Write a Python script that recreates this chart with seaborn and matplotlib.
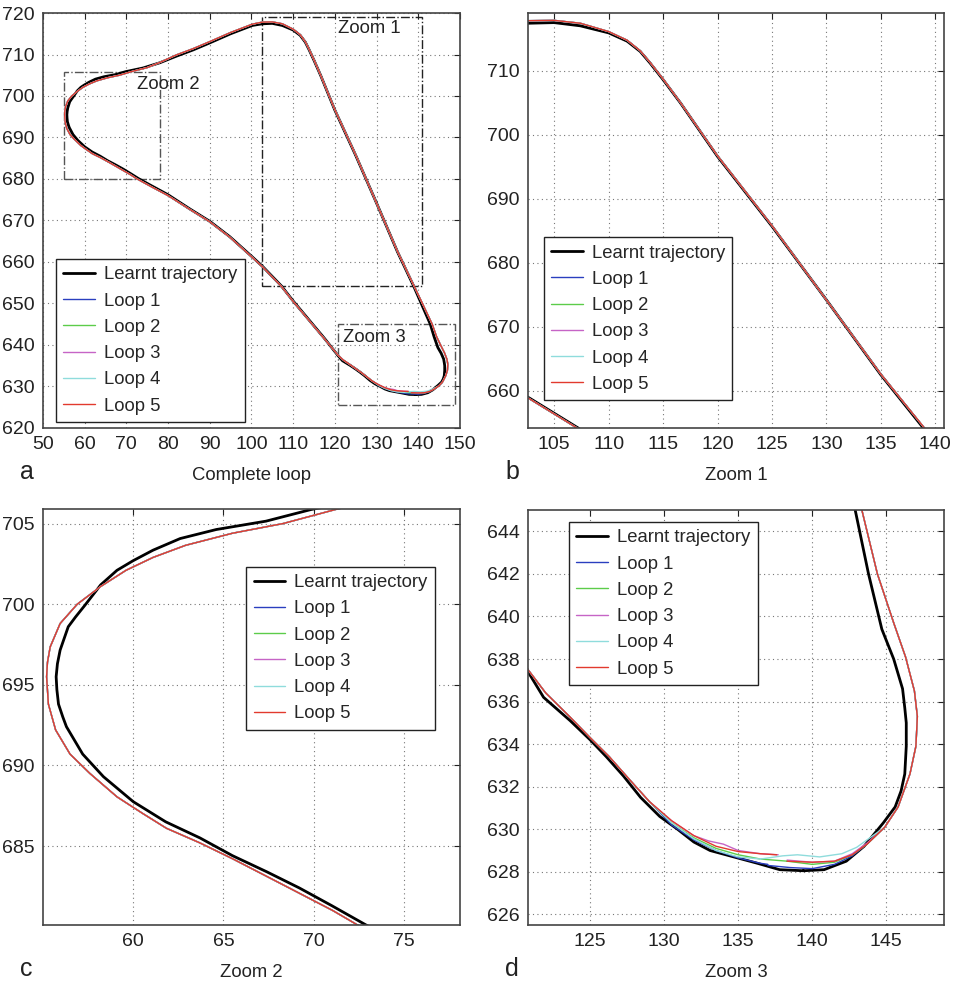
import numpy as np
import pandas as pd
import matplotlib
matplotlib.use("Agg")
import matplotlib.pyplot as plt
from matplotlib.patches import Rectangle
import seaborn as sns

# --- learnt trajectory ---
learnt_x = [139.4, 140.8, 142.3, 143.5, 144.8, 145.6, 146.0, 146.25, 146.35, 146.35, 146.25, 146.1,
            145.8, 145.5, 144.7, 143.8, 142.9, 140.9, 138.9, 135.0, 130.0, 125.0, 120.0, 116.6,
            115.0, 113.8, 112.9, 111.7, 110.0, 107.4, 105.0, 102.6, 100.2, 95.0, 90.0, 86.0,
            82.0, 78.0, 74.0, 69.85, 67.36, 64.6, 62.6, 61.1, 60.0, 59.1, 58.2, 57.3,
            56.8, 56.4, 55.95, 55.8, 55.73, 55.77, 55.86, 56.1, 56.3, 57.2, 58.35, 60.0,
            61.8, 63.7, 65.5, 67.4, 69.2, 71.0, 72.9, 75.6, 80.0, 85.2, 90.0, 94.8,
            100.0, 102.7, 105.0, 107.2, 110.0, 114.0, 117.5, 120.8, 121.85, 123.65, 125.0, 126.1,
            127.25, 128.4, 129.7, 130.9, 132.0, 133.1, 134.7, 136.3, 137.8, 139.4]
learnt_y = [628.05, 628.1, 628.5, 629.2, 630.3, 631.05, 631.8, 632.6, 633.9, 635.0, 635.7, 636.6,
            637.3, 638.0, 639.4, 642.0, 645.0, 649.6, 654.2, 662.5, 674.2, 685.7, 696.6, 704.95,
            708.6, 711.2, 713.0, 714.6, 715.9, 717.0, 717.5, 717.4, 717.0, 715.0, 712.8, 711.1,
            709.6, 708.0, 706.75, 705.87, 705.15, 704.63, 704.07, 703.35, 702.7, 702.1, 701.2, 699.9,
            699.2, 698.6, 697.15, 696.3, 695.5, 694.7, 693.8, 693.0, 692.4, 690.7, 689.3, 687.75,
            686.5, 685.5, 684.4, 683.4, 682.4, 681.3, 680.1, 678.6, 676.2, 672.8, 669.8, 666.1,
            661.4, 658.9, 656.5, 654.2, 650.6, 645.8, 641.6, 637.4, 636.2, 635.1, 634.2, 633.4,
            632.5, 631.5, 630.6, 630.0, 629.4, 629.0, 628.7, 628.4, 628.1, 628.05]

# --- common part of the five executed loops ---
body_x = [144.9, 145.8, 146.6, 147.0, 147.1, 146.9, 146.3, 145.5, 144.4, 143.35, 141.1, 139.0,
          135.0, 130.0, 125.0, 120.0, 116.6, 115.0, 113.8, 112.9, 111.7, 110.0, 107.4, 105.0,
          102.6, 100.2, 95.0, 90.0, 86.0, 82.0, 78.3, 75.0, 71.2, 68.3, 65.5, 62.9,
          61.1, 59.6, 58.2, 56.9, 55.95, 55.4, 55.25, 55.2, 55.3, 55.7, 56.5, 57.6, 59.1,
          60.55, 61.84, 63.68, 65.52, 68.29, 71.05, 72.43, 75.6, 80.0, 85.2, 90.0, 94.8,
          100.0, 102.7, 105.0, 107.2, 110.0, 114.0, 117.5, 120.8, 122.0, 123.6, 125.0, 126.3,
          127.7, 129.0]
body_y = [630.1, 631.05, 632.6, 633.9, 635.3, 636.5, 638.1, 639.7, 642.0, 645.0, 649.8, 654.2,
          662.6, 674.2, 685.8, 696.7, 705.0, 708.7, 711.3, 713.1, 714.75, 716.1, 717.4, 717.85,
          717.8, 717.3, 715.3, 713.1, 711.4, 709.9, 708.2, 706.85, 705.87, 705.0, 704.4, 703.65,
          702.9, 702.1, 701.1, 700.0, 698.8, 697.35, 696.4, 695.5, 693.8, 692.2, 690.7, 689.5, 688.05,
          687.0, 686.1, 685.2, 684.2, 682.6, 681.0, 680.1, 678.35, 676.0, 672.7, 669.7, 666.0,
          661.3, 658.8, 656.4, 654.1, 650.5, 645.7, 641.5, 637.5, 636.4, 635.3, 634.3, 633.4,
          632.3, 631.3]

# start (head) and end (tail) of each loop near the bottom bend
loop1_head_x = [137.0, 138.5, 140.0, 141.5, 142.7, 143.7]
loop1_head_y = [628.3, 628.2, 628.15, 628.35, 628.75, 629.3]
loop1_tail_x = [130.5, 132.0, 133.5, 135.0, 136.5, 137.0]
loop1_tail_y = [630.2, 629.5, 629.0, 628.65, 628.4, 628.35]

loop2_head_x = [138.3, 140.0, 141.5, 142.7, 143.7]
loop2_head_y = [628.5, 628.35, 628.45, 628.8, 629.3]
loop2_tail_x = [130.5, 132.0, 133.5, 135.0, 136.5, 138.3]
loop2_tail_y = [630.3, 629.6, 629.1, 628.8, 628.6, 628.5]

loop3_head_x = [138.3, 140.0, 141.5, 142.7, 143.7]
loop3_head_y = [628.55, 628.45, 628.5, 628.85, 629.35]
loop3_tail_x = [130.5, 132.0, 133.0, 134.0, 135.0, 136.5, 137.7]
loop3_tail_y = [630.4, 629.7, 629.45, 629.3, 629.0, 628.85, 628.8]

loop4_head_x = [136.5, 138.0, 139.0, 140.5, 142.0, 143.0, 143.7]
loop4_head_y = [628.6, 628.75, 628.8, 628.7, 628.85, 629.15, 629.5]
loop4_tail_x = [130.5, 132.0, 133.5, 135.0, 136.5]
loop4_tail_y = [630.3, 629.55, 629.0, 628.7, 628.6]

loop5_head_x = [138.3, 140.0, 141.5, 142.7, 143.7]
loop5_head_y = [628.5, 628.45, 628.5, 628.8, 629.3]
loop5_tail_x = [130.5, 132.0, 133.5, 135.0, 136.5, 137.6]
loop5_tail_y = [630.4, 629.7, 629.2, 628.95, 628.85, 628.8]

loop_names = ["Loop 1", "Loop 2", "Loop 3", "Loop 4", "Loop 5"]
loop_colors = ["#2a3fbf", "#5ccc4a", "#c664c6", "#8fdcdc", "#e23a2e"]

loops = [
    (loop1_head_x + body_x + loop1_tail_x, loop1_head_y + body_y + loop1_tail_y),
    (loop2_head_x + body_x + loop2_tail_x, loop2_head_y + body_y + loop2_tail_y),
    (loop3_head_x + body_x + loop3_tail_x, loop3_head_y + body_y + loop3_tail_y),
    (loop4_head_x + body_x + loop4_tail_x, loop4_head_y + body_y + loop4_tail_y),
    (loop5_head_x + body_x + loop5_tail_x, loop5_head_y + body_y + loop5_tail_y),
]

# panel limits / zoom windows
lim_full = ((50, 150), (620, 720))
lim_z1 = ((102.6, 140.8), (654.2, 719.0))
lim_z2 = ((55.0, 78.1), (680.1, 705.9))
lim_z3 = ((120.8, 148.9), (625.5, 645.0))

sns.set_style("white")
plt.rcParams['font.family'] = ['Liberation Sans', 'DejaVu Sans']
plt.rcParams['font.size'] = 13

fig = plt.figure(figsize=(9.55, 9.85), dpi=100)
ax_a = fig.add_axes([0.045, 0.5655, 0.4366, 0.4213])
ax_b = fig.add_axes([0.5529, 0.5655, 0.4356, 0.4213])
ax_c = fig.add_axes([0.045, 0.0609, 0.4366, 0.4223])
ax_d = fig.add_axes([0.5529, 0.0609, 0.4356, 0.4213])


def draw_paths(ax):
    sns.lineplot(x=learnt_x, y=learnt_y, sort=False, estimator=None, color="black",
                 linewidth=2.0, label="Learnt trajectory", ax=ax)
    for (lx, ly), name, col in zip(loops, loop_names, loop_colors):
        sns.lineplot(x=lx, y=ly, sort=False, estimator=None, color=col,
                     linewidth=1.0, label=name, ax=ax)


def style_axes(ax, lims, xticks, yticks, xlabel, letter):
    ax.set_xlim(*lims[0])
    ax.set_ylim(*lims[1])
    ax.set_xticks(xticks)
    ax.set_yticks(yticks)
    ax.grid(True, linestyle=(0, (1, 3)), color="#777777", linewidth=0.8)
    ax.tick_params(direction="in", top=True, right=True, length=4, width=0.8,
                   labelsize=14, pad=6, colors="#222222")
    for sp in ax.spines.values():
        sp.set_color("#444444")
        sp.set_linewidth(1.2)
    ax.set_xlabel(xlabel, fontsize=13.3, labelpad=10, color="#222222")
    ax.set_ylabel("")
    ax.text(-0.055, -0.105, letter, transform=ax.transAxes, fontsize=18,
            ha="left", va="center", color="#222222")


def place_legend(ax, loc, anchor):
    leg = ax.legend(loc=loc, bbox_to_anchor=anchor, borderaxespad=0, frameon=True,
                    fancybox=False, edgecolor="#222222", framealpha=1, fontsize=13.3,
                    handlelength=1.7, labelspacing=0.5, borderpad=0.4, handletextpad=0.5)
    leg.get_frame().set_linewidth(1.0)


for ax in (ax_a, ax_b, ax_c, ax_d):
    draw_paths(ax)

# zoom windows on the full loop
for lims, ls_col in ((lim_z1, "#222222"), (lim_z2, "#555555"), (lim_z3, "#555555")):
    (x0, x1), (y0, y1) = lims
    ax_a.add_patch(Rectangle((x0, y0), x1 - x0, y1 - y0, fill=False, linestyle="-.",
                             edgecolor=ls_col, linewidth=1.0, zorder=1))
ax_a.text(128.3, 716.2, "Zoom 1", fontsize=13.3, ha="center", va="center", color="#222222")
ax_a.text(80.0, 702.7, "Zoom 2", fontsize=13.3, ha="center", va="center", color="#222222")
ax_a.text(129.6, 641.8, "Zoom 3", fontsize=13.3, ha="center", va="center", color="#222222")

style_axes(ax_a, lim_full, np.arange(50, 151, 10), np.arange(620, 721, 10), "Complete loop", "a")
style_axes(ax_b, lim_z1, np.arange(105, 141, 5), np.arange(660, 711, 10), "Zoom 1", "b")
style_axes(ax_c, lim_z2, np.arange(60, 76, 5), np.arange(685, 706, 5), "Zoom 2", "c")
style_axes(ax_d, lim_z3, np.arange(125, 146, 5), np.arange(626, 645, 2), "Zoom 3", "d")

place_legend(ax_a, "lower left", (0.031, 0.0145))
place_legend(ax_b, "lower left", (0.038, 0.067))
place_legend(ax_c, "upper right", (0.94, 0.861))
place_legend(ax_d, "upper left", (0.0986, 0.971))

fig.savefig("out.png", dpi=100)
plt.close(fig)
